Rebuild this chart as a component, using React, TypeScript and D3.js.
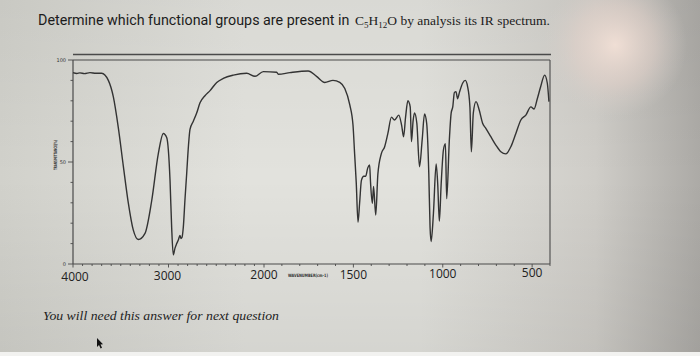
import React from "react";
import * as d3 from "d3";

// Spectrum trace: wavenumber (cm-1) and transmittance (%)
const wavenumbers = [
  4000, 3960, 3927, 3880, 3822, 3760, 3700, 3630, 3578, 3526, 3473, 3421, 3369, 3316,
  3246, 3176, 3107, 3054, 3019, 2984, 2967, 2950, 2932, 2914, 2897, 2880, 2870, 2859,
  2845, 2827, 2810, 2791, 2775, 2740, 2705, 2670, 2618, 2565, 2495, 2426, 2321, 2181,
  2094, 2007, 1929, 1920, 1855, 1753, 1706, 1660, 1614, 1576, 1548, 1520, 1502, 1493,
  1484, 1474, 1465, 1455, 1442, 1431, 1420, 1409, 1404, 1394, 1387, 1375, 1363, 1344,
  1325, 1307, 1287, 1270, 1246, 1230, 1219, 1208, 1195, 1182, 1175, 1166, 1158, 1145,
  1130, 1115, 1102, 1090, 1078, 1071, 1065, 1052, 1037, 1028, 1019, 1009, 996, 985,
  978, 963, 953, 944, 935, 926, 917, 907, 889, 874, 861, 848, 840, 829, 814, 796, 777,
  759, 731, 703, 675, 647, 619, 591, 563, 535, 507, 489, 471, 452, 430, 415, 406,
];
const transmittance = [
  93.8, 93.4, 93.7, 93.3, 93.8, 93.5, 93.5, 90, 82, 67, 48, 30, 16.7, 12,
  15, 31, 54, 64, 62, 41, 18, 4.5, 7.8, 10, 11.8, 14, 12.5, 13,
  18, 32, 44, 58, 66, 70, 74, 79, 82.5, 85, 89, 91, 92.6, 93.5,
  92, 94.3, 94, 93, 93.8, 94.6, 92, 89, 90, 89, 86, 78, 68, 54,
  40, 20.5, 30, 41, 43, 43, 47, 48.5, 40, 29.7, 38, 24, 44, 54,
  57.5, 64, 72, 70.6, 73, 68, 62.4, 72, 80, 77, 60, 70, 74, 69,
  47.7, 61, 73.5, 69, 44, 18, 11, 25, 49, 39, 21, 39, 56, 59,
  32, 61, 74, 77, 84, 84.5, 81, 84, 88.6, 90, 87, 77, 55, 74, 79.6, 75.5, 69,
  66.5, 62.4, 58.3, 55, 54, 57.5, 64, 70.6, 73, 77, 76, 81, 87, 92.6, 88.6, 79.6,
];

const xTickLabels = [4000, 3000, 2000, 1500, 1000, 500];
const yTickLabels = [100, 50, 0];

const W = 700;
const H = 356;

export default function App() {
  const x = d3.scaleLinear().domain([4000, 2000, 400]).range([73, 264, 550]);
  const y = d3.scaleLinear().domain([0, 100]).range([264, 60]);

  const pts: [number, number][] = wavenumbers.map((w, i) => [w, transmittance[i]]);
  const line = d3
    .line<[number, number]>()
    .x((d) => x(d[0]))
    .y((d) => y(d[1]))
    .curve(d3.curveMonotoneX);

  const minorX = d3.range(4000, 399, -100);
  const minorY = d3.range(0, 101, 10);

  const ink = "#333333";
  const serif = "'Liberation Serif', 'DejaVu Serif', serif";

  return (
    <svg
      width={W}
      height={H}
      viewBox={`0 0 ${W} ${H}`}
      style={{ position: "absolute", left: 0, top: 0, display: "block" }}
    >
      <defs>
        <linearGradient id="bgH" x1="0" y1="0" x2="1" y2="0">
          <stop offset="0" stopColor="#d1d1cb" />
          <stop offset="0.35" stopColor="#e2e2dd" />
          <stop offset="0.6" stopColor="#e2e2dd" />
          <stop offset="0.85" stopColor="#cfcdc8" />
          <stop offset="1" stopColor="#acaaa6" />
        </linearGradient>
        <radialGradient id="glow" cx="615" cy="45" r="72" gradientUnits="userSpaceOnUse">
          <stop offset="0" stopColor="#f2e0d6" stopOpacity="0.95" />
          <stop offset="0.55" stopColor="#e4d3cb" stopOpacity="0.55" />
          <stop offset="1" stopColor="#d6cfca" stopOpacity="0" />
        </radialGradient>
        <linearGradient id="bgV" x1="0" y1="0" x2="0" y2="1">
          <stop offset="0" stopColor="#000" stopOpacity="0.04" />
          <stop offset="0.5" stopColor="#000" stopOpacity="0" />
          <stop offset="1" stopColor="#000" stopOpacity="0.06" />
        </linearGradient>
      </defs>

      <rect x={0} y={0} width={W} height={H} fill="url(#bgH)" />
      <rect x={0} y={0} width={W} height={H} fill="url(#bgV)" />
      <rect x={0} y={0} width={W} height={H} fill="url(#glow)" />
      <rect x={0} y={352} width={W} height={4} fill="#f2f2f0" />

      {/* Title */}
      <text
        x={38}
        y={25}
        fill="#1c1c1c"
        fontFamily="Roboto, 'Open Sans', sans-serif"
        fontSize={14.3}
      >
        Determine which functional groups are present in
      </text>
      <text x={355} y={25} fill="#1c1c1c" fontSize={13.5} fontFamily={serif}>
        C<tspan fontSize={9} dy={3}>5</tspan>
        <tspan dy={-3}>H</tspan>
        <tspan fontSize={9} dy={3}>12</tspan>
        <tspan dy={-3}>O by analysis its IR spectrum.</tspan>
      </text>

      {/* Upper rule line */}
      <line x1={73} x2={551} y1={54.5} y2={54.5} stroke="#4a4a4a" strokeWidth={1.3} />

      {/* Frame */}
      <line x1={x(4000)} x2={x(400)} y1={y(100)} y2={y(100)} stroke="#4a4a4a" strokeWidth={1.2} />
      <line x1={x(400)} x2={x(400)} y1={y(100)} y2={y(0)} stroke="#4a4a4a" strokeWidth={1.1} />
      <line x1={x(4000)} x2={x(400)} y1={y(0)} y2={y(0)} stroke="#4a4a4a" strokeWidth={1.1} />
      <line x1={x(4000)} x2={x(4000)} y1={y(100)} y2={y(0)} stroke="#4a4a4a" strokeWidth={1.2} />

      {/* X ticks */}
      {minorX.map((v) => {
        const major = xTickLabels.includes(v);
        return (
          <line
            key={`xt${v}`}
            x1={x(v)}
            x2={x(v)}
            y1={y(0)}
            y2={y(0) + (major ? 3.5 : 2)}
            stroke="#4a4a4a"
            strokeWidth={0.9}
          />
        );
      })}
      {xTickLabels.map((v) => (
        <text
          key={`xl${v}`}
          x={x(v) + (v === 4000 ? 2 : v === 3000 ? -1 : 0)}
          y={281 - (x(v) - 73) * 0.008}
          textAnchor="middle"
          fontFamily="'Open Sans', 'Noto Sans', sans-serif"
          fontSize={12}
          fill="#222"
        >
          {v}
        </text>
      ))}
      <text
        x={308}
        y={277}
        textAnchor="middle"
        fontFamily="'DejaVu Sans', sans-serif"
        fontSize={4.5}
        fontWeight="bold"
        fill="#333"
        textLength={40}
        lengthAdjust="spacingAndGlyphs"
      >
        WAVENUMBER(cm-1)
      </text>

      {/* Y ticks */}
      {minorY.map((v) => {
        const major = yTickLabels.includes(v);
        return (
          <line
            key={`yt${v}`}
            x1={x(4000) - (major ? 5 : 2.5)}
            x2={x(4000)}
            y1={y(v)}
            y2={y(v)}
            stroke="#4a4a4a"
            strokeWidth={0.9}
          />
        );
      })}
      {yTickLabels.map((v) => (
        <text
          key={`yl${v}`}
          x={x(4000) - 7}
          y={y(v) + 1.8}
          textAnchor="end"
          fontFamily="'DejaVu Sans', sans-serif"
          fontSize={5}
          fill="#333"
        >
          {v}
        </text>
      ))}
      <text
        transform={`translate(57,155) rotate(-90)`}
        textAnchor="middle"
        fontFamily="'DejaVu Sans', sans-serif"
        fontSize={4.5}
        fontWeight="bold"
        fill="#333"
        textLength={30}
        lengthAdjust="spacingAndGlyphs"
      >
        TRANSMITTANCE(%)
      </text>

      {/* Spectrum */}
      <path
        d={line(pts) || ""}
        fill="none"
        stroke={ink}
        strokeWidth={1.4}
        strokeLinejoin="round"
      />

      {/* Footer note */}
      <text
        x={43}
        y={320}
        fontFamily={serif}
        fontStyle="italic"
        fontSize={13}
        fill="#1e1e1e"
        textLength={236}
        lengthAdjust="spacingAndGlyphs"
      >
        You will need this answer for next question
      </text>

      {/* Mouse cursor */}
      <path
        d="M97,338 L97,347 L99,345 L100.6,348.5 L102,347.8 L100.5,344.5 L103,344.3 Z"
        fill="#111"
      />
    </svg>
  );
}
